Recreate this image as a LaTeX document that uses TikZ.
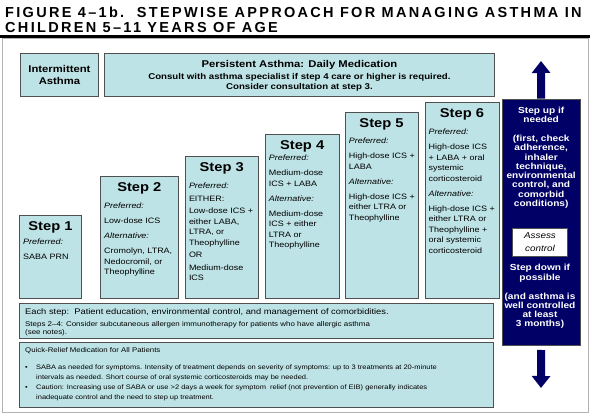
\documentclass[tikz,border=0pt]{standalone}
\usepackage{fontspec}
\setmainfont{Liberation Sans}[FakeStretch=1.15]
\newfontfamily\titlefont{Liberation Sans}[LetterSpace=16]
\usetikzlibrary{arrows.meta,positioning}

\definecolor{paleblue}{HTML}{BEE3E6}
\definecolor{navyblue}{HTML}{000066}
\definecolor{edgegray}{HTML}{505050}

\begin{document}
\begin{tikzpicture}[
    x=1pt, y=1pt,
    panel/.style={draw=edgegray, line width=0.9pt, fill=paleblue, inner sep=0pt, anchor=south west},
    stephead/.style={anchor=base, inner sep=0pt, font=\fontsize{12.8}{14}\selectfont\bfseries},
    stepbody/.style={anchor=north west, inner sep=0pt, align=left, font=\fontsize{7.8}{10.5}\selectfont},
    sidetext/.style={anchor=north, inner sep=0pt, align=center, text=white, font=\fontsize{8.8}{9.3}\selectfont\bfseries},
    bigarrow/.style={-{Triangle[width=18pt,length=12pt]}, line width=8pt, navyblue}
]
\useasboundingbox (0,0) rectangle (590,417);

% title and frame
\node[anchor=north west, inner sep=0pt, align=left, font=\titlefont\fontsize{14.5}{14.5}\selectfont\bfseries] (title) at (5,410)
    {FIGURE 4\textendash 1b.\ \ STEPWISE APPROACH FOR MANAGING ASTHMA IN\\CHILDREN 5\textendash 11 YEARS OF AGE};
\draw[line width=3pt] (0,380.5) -- (590,380.5);
\draw[gray!60, line width=1pt] (2,378) rectangle (588,4);

% top row
\node[panel, minimum width=78pt, minimum height=43pt, align=center, font=\fontsize{9.8}{12}\selectfont\bfseries] (inter) at (20,320) {Intermittent\\Asthma};
\node[panel, minimum width=390pt, minimum height=43pt] (persist) at (104,320) {};
\node[anchor=base, inner sep=0pt, font=\fontsize{9.8}{12}\selectfont\bfseries] (persisthead) at ([yshift=-14pt]persist.north) {Persistent Asthma: Daily Medication};
\node[below=4pt of persisthead, inner sep=0pt, align=center, font=\fontsize{8.4}{10}\selectfont\bfseries] (consult)
    {Consult with asthma specialist if step 4 care or higher is required.\\Consider consultation at step 3.};

% staircase of steps
\node[panel, minimum width=62pt, minimum height=83pt] (step1) at (19,118) {};
\node[panel, minimum width=78pt, minimum height=122pt, right=18pt of step1.south east, anchor=south west] (step2) {};
\node[panel, minimum width=73pt, minimum height=142pt, right=6pt of step2.south east, anchor=south west] (step3) {};
\node[panel, minimum width=74pt, minimum height=164pt, right=6pt of step3.south east, anchor=south west] (step4) {};
\node[panel, minimum width=73pt, minimum height=186pt, right=5pt of step4.south east, anchor=south west] (step5) {};
\node[panel, minimum width=74pt, minimum height=196pt, right=6pt of step5.south east, anchor=south west] (step6) {};

\foreach \n in {1,...,6}
    \node[stephead] (head\n) at ([yshift=-15.5pt]step\n.north) {Step \n};

\node[stepbody, below right=24pt and 4pt of step1.north west] (body1)
    {\textit{Preferred:}\\[4.5pt]SABA PRN};
\node[stepbody, below right=27pt and 4pt of step2.north west] (body2)
    {\textit{Preferred:}\\[4.5pt]Low-dose ICS\\[4.5pt]\textit{Alternative:}\\[4.5pt]Cromolyn, LTRA,\\Nedocromil, or\\Theophylline};
\node[stepbody, below right=27pt and 4pt of step3.north west] (body3)
    {\textit{Preferred:}\\[2pt]EITHER:\\[2pt]Low-dose ICS +\\either LABA,\\LTRA, or\\Theophylline\\[2pt]OR\\[2pt]Medium-dose\\ICS};
\node[stepbody, below right=21pt and 4pt of step4.north west] (body4)
    {\textit{Preferred:}\\[4.5pt]Medium-dose\\ICS + LABA\\[4.5pt]\textit{Alternative:}\\[4.5pt]Medium-dose\\ICS + either\\LTRA or\\Theophylline};
\node[stepbody, below right=26pt and 4pt of step5.north west] (body5)
    {\textit{Preferred:}\\[4.5pt]High-dose ICS +\\LABA\\[4.5pt]\textit{Alternative:}\\[4.5pt]High-dose ICS +\\either LTRA or\\Theophylline};
\node[stepbody, below right=27pt and 4pt of step6.north west] (body6)
    {\textit{Preferred:}\\[4.5pt]High-dose ICS\\+ LABA + oral\\systemic\\corticosteroid\\[4.5pt]\textit{Alternative:}\\[4.5pt]High-dose ICS +\\either LTRA or\\Theophylline +\\oral systemic\\corticosteroid};

% bottom rows
\node[panel, minimum width=474pt, minimum height=35pt] (each) at (19,78) {};
\node[anchor=base west, inner sep=0pt, font=\fontsize{8.1}{11}\selectfont] (eachtext) at ([shift={(6pt,-11pt)}]each.north west)
    {Each step:\ \ Patient education, environmental control, and management of comorbidities.};
\node[below right=5pt and 0pt of eachtext.south west, inner sep=0pt, align=left, font=\fontsize{6.9}{8}\selectfont] (notes)
    {Steps 2\textendash 4: Consider subcutaneous allergen immunotherapy for patients who have allergic asthma\\(see notes).};

\node[panel, minimum width=474pt, minimum height=65pt] (quick) at (19,9) {};
\node[anchor=base west, inner sep=0pt, font=\fontsize{6.8}{8}\selectfont] (quickhead) at ([shift={(6pt,-10pt)}]quick.north west)
    {Quick-Relief Medication for All Patients};
\node[below right=11pt and 0pt of quickhead.south west, inner sep=0pt, align=left, font=\fontsize{6.5}{10}\selectfont] (bullets)
    {\makebox[11pt][l]{\textbullet}SABA as needed for symptoms. Intensity of treatment depends on severity of symptoms: up to 3 treatments at 20-minute\\
     \hspace*{11pt}intervals as needed. Short course of oral systemic corticosteroids may be needed.\\
     \makebox[11pt][l]{\textbullet}Caution: Increasing use of SABA or use >2 days a week for symptom\ \ relief (not prevention of EIB) generally indicates\\
     \hspace*{11pt}inadequate control and the need to step up treatment.};

% step up / step down column
\node[draw=edgegray, fill=navyblue, minimum width=78pt, minimum height=246pt, anchor=south west] (side) at (502,72) {};
\node[sidetext, below=8pt of side.north] (stepup)
    {Step up if\\needed\\[9.7pt](first, check\\adherence,\\inhaler\\technique,\\environmental\\control, and\\comorbid\\conditions)};
\node[draw=edgegray, fill=white, minimum width=55pt, minimum height=28pt, inner sep=0pt, align=center, font=\fontsize{8.6}{13}\selectfont\itshape] (assess) at (540,175) {Assess\\control};
\node[sidetext, below=8pt of assess] (stepdown)
    {Step down if\\possible\\[9.7pt](and asthma is\\well controlled\\at least\\3 months)};

\coordinate (uptip) at (541,356);
\coordinate (downtip) at (541,29);
\draw[bigarrow] (side.north) -- (uptip);
\draw[bigarrow] ([yshift=-5pt]side.south) -- (downtip);
\end{tikzpicture}
\end{document}
